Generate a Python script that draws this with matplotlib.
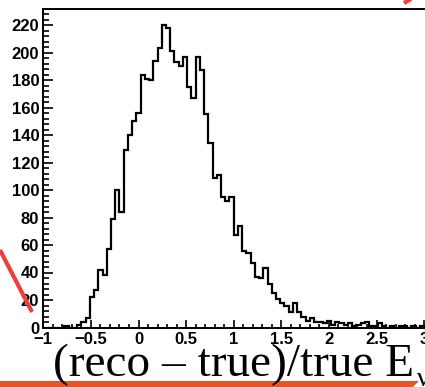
"""ROOT-style energy resolution histogram, redrawn with matplotlib."""
import matplotlib
matplotlib.use("Agg")
import matplotlib.pyplot as plt
from matplotlib.lines import Line2D
from matplotlib.patches import Polygon
from matplotlib.ticker import MultipleLocator

# histogram: 90 bins between -1 and 3
x_lo, x_hi, n_bins = -1.0, 3.0, 90
counts = [
    0, 0, 0, 0, 0, 1, 0, 0, 2, 4,
    7, 22, 27, 42, 38, 57, 79, 100, 84, 129,
    140, 150, 156, 184, 181, 180, 194, 203, 220, 218,
    201, 193, 190, 197, 175, 167, 197, 187, 155, 134,
    109, 111, 95, 92, 95, 67, 74, 56, 54, 47,
    37, 36, 43, 32, 25, 21, 18, 16, 11, 18,
    11, 8, 5, 7, 4, 4, 3, 5, 2, 4,
    3, 2, 3, 1, 2, 3, 4, 1, 1, 3,
    1, 0, 1, 0, 1, 1, 0, 1, 0, 1,
]
x_ticks = [-1, -0.5, 0, 0.5, 1, 1.5, 2, 2.5, 3]
x_ticklabels = ["\u22121", "\u22120.5", "0", "0.5", "1", "1.5", "2", "2.5", "3"]
y_ticks = [0, 20, 40, 60, 80, 100, 120, 140, 160, 180, 200, 220]
xlabel = "(reco \u2013 true)/true E"

edges = [x_lo + i * (x_hi - x_lo) / n_bins for i in range(n_bins + 1)]

W, H = 425, 387
fig = plt.figure(figsize=(W / 100, H / 100), dpi=100)

# frame placed in pixels, right edge runs off the picture
px0, py0, ptop, ppu = 43.3, 327.5, 9.3, 95.2
ax = fig.add_axes([px0 / W, (H - py0) / H, 4.1 * ppu / W, (py0 - ptop) / H])
ax.stairs(counts, edges, baseline=0, color="black", linewidth=1.6)
ax.set_xlim(-1, 3.1)
ax.set_ylim(0, (py0 - ptop) / 1.375)

for s in ["left", "bottom", "top"]:
    ax.spines[s].set_linewidth(1.4)
ax.spines["right"].set_visible(False)

tickfont = {"family": "Liberation Sans", "weight": "bold", "size": 12}
ax.set_xticks(x_ticks)
ax.set_xticklabels(x_ticklabels, fontdict=tickfont)
ax.set_yticks(y_ticks)
ax.set_yticklabels([str(v) for v in y_ticks], fontdict=tickfont)
ax.xaxis.set_minor_locator(MultipleLocator(0.1))
ax.yaxis.set_minor_locator(MultipleLocator(4))
ax.tick_params(axis="x", which="major", direction="in", length=6, width=1.2, pad=3.5)
ax.tick_params(axis="x", which="minor", direction="in", length=3, width=1.2)
ax.tick_params(axis="y", which="major", direction="in", length=7, width=1.2, pad=3)
ax.tick_params(axis="y", which="minor", direction="in", length=4.3, width=1.2)

# big serif axis title
fig.text(53 / W, (H - 376) / H, xlabel, family="Liberation Serif", fontsize=34,
         ha="left", va="baseline")
fig.text(417 / W, (H - 386) / H, "\u03bd", family="Liberation Serif", fontsize=20,
         ha="left", va="baseline")

# red annotation marks around the crop
fig.add_artist(Line2D([0 / W, 32 / W], [(H - 250) / H, (H - 312) / H],
                      color="#f03c3c", linewidth=3, solid_capstyle="butt"))
fig.add_artist(Line2D([420 / W, 404 / W], [(H + 6) / H, (H - 3) / H],
                      color="#f03c3c", linewidth=3, solid_capstyle="butt"))
fig.add_artist(Polygon([[0, (H - 381) / H], [419 / W, (H - 381) / H],
                        [413 / W, 0], [0, 0]], closed=True,
                       facecolor="#e4572c", edgecolor="none"))

fig.savefig("out.png", dpi=100)
